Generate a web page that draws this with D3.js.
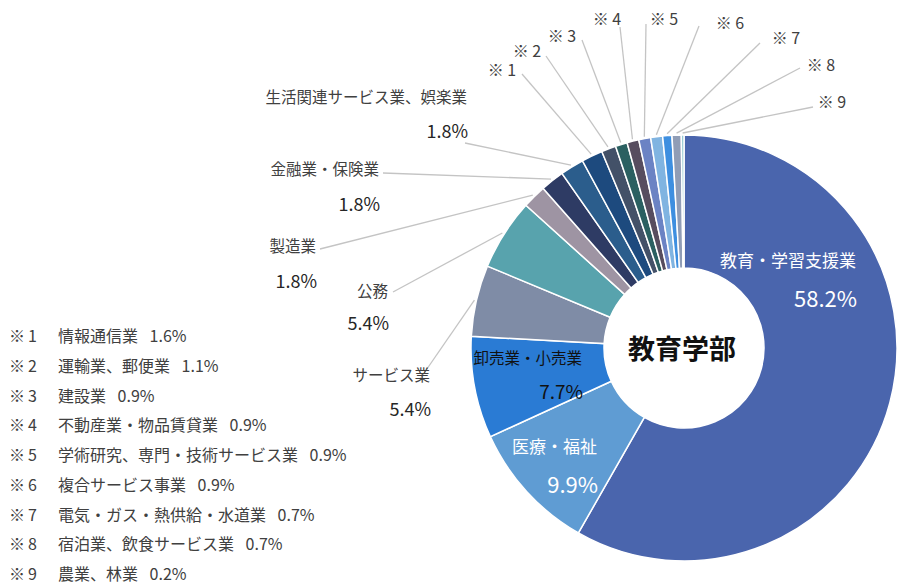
<!DOCTYPE html>
<meta charset="utf-8" />
<script src="https://d3js.org/d3.v7.min.js"></script>
<body style="margin:0;background:#fff">
  <div id="chart"></div>
  <script>
    // data
    const categories = [
      "教育・学習支援業", "医療・福祉", "卸売業・小売業", "サービス業", "公務",
      "製造業", "金融業・保険業", "生活関連サービス業、娯楽業",
      "情報通信業", "運輸業、郵便業", "建設業", "不動産業・物品賃貸業",
      "学術研究、専門・技術サービス業", "複合サービス事業",
      "電気・ガス・熱供給・水道業", "宿泊業、飲食サービス業", "農業、林業"
    ];
    const values = [58.2, 9.9, 7.7, 5.4, 5.4, 1.8, 1.8, 1.8, 1.6, 1.1, 0.9, 0.9, 0.9, 0.9, 0.7, 0.7, 0.2];
    const colors = [
      "#4a65ad", "#5f9cd3", "#2a7bd4", "#7f8ca6", "#58a3ad", "#9e94a3",
      "#2e3b64", "#2b5d8c", "#1d4a7e", "#435168", "#2b6061", "#574d5f",
      "#6b83c4", "#80b4e1", "#3e8fe0", "#909db6", "#8ec7ce"
    ];
    const centerTitle = "教育学部";

    // layout of labels (placed by hand like the original)
    const insideLabels = {
      0: { x: 856, y: 259, py: 297, fill: "#fff", fs: 17, pfs: 22 },
      1: { x: 597, y: 445, py: 483, fill: "#fff", fs: 17, pfs: 22 },
      2: { x: 582, y: 357, py: 390, fill: "#111", fs: 15.5, pfs: 19 }
    };
    const outsideLabels = {
      3: { x: 430, y: 374, py: 408, lx: 420, ly: 379 },
      4: { x: 388, y: 290, py: 322, lx: 393, ly: 292 },
      5: { x: 316, y: 245, py: 280, lx: 320, ly: 249 },
      6: { x: 379, y: 168, py: 203, lx: 383, ly: 173 },
      7: { x: 467, y: 96, py: 130, lx: 465, ly: 143 }
    };
    const markLabels = {
      8: { x: 502, y: 69, lx: 522, ly: 74 },
      9: { x: 527, y: 50, lx: 546, ly: 56 },
      10: { x: 562, y: 35, lx: 582, ly: 40 },
      11: { x: 607, y: 18, lx: 620, ly: 27 },
      12: { x: 664, y: 18, lx: 646, ly: 24 },
      13: { x: 730, y: 22, lx: 699, ly: 26 },
      14: { x: 786, y: 37, lx: 760, ly: 43 },
      15: { x: 821, y: 64, lx: 800, ly: 68 },
      16: { x: 832, y: 101, lx: 813, ly: 107 }
    };

    const width = 900, height = 587;
    const cx = 684, cy = 348, rOuter = 213, rInner = 80;
    const font = "'Noto Sans CJK JP', 'Noto Sans', sans-serif";

    const svg = d3.select("#chart").append("svg")
      .attr("width", width).attr("height", height)
      .style("font-family", font);

    const data = categories.map((c, i) => ({ name: c, value: values[i], i: i }));
    const pie = d3.pie().value(d => d.value).sort(null);
    const arcs = pie(data);
    const arc = d3.arc().innerRadius(rInner).outerRadius(rOuter);
    const edge = d3.arc().innerRadius(rOuter + 2).outerRadius(rOuter + 2);

    const g = svg.append("g").attr("transform", "translate(" + cx + "," + cy + ")");

    // slices
    g.selectAll("path.slice")
      .data(arcs)
      .enter()
      .append("path")
      .attr("class", "slice")
      .attr("d", arc)
      .attr("fill", d => colors[d.index])
      .attr("stroke", "#fff")
      .attr("stroke-width", 1.5);

    // leader lines
    const lineColor = "#c4c4c4";
    arcs.forEach(d => {
      const lay = outsideLabels[d.index] || markLabels[d.index];
      if (!lay) return;
      const p = edge.centroid(d);
      svg.append("line")
        .attr("x1", lay.lx).attr("y1", lay.ly)
        .attr("x2", cx + p[0]).attr("y2", cy + p[1])
        .attr("stroke", lineColor)
        .attr("stroke-width", 1.3);
    });

    // inside labels
    Object.keys(insideLabels).forEach(k => {
      const lay = insideLabels[k];
      svg.append("text")
        .attr("x", lay.x).attr("y", lay.y)
        .attr("text-anchor", "end").attr("dominant-baseline", "central")
        .attr("fill", lay.fill).style("font-size", lay.fs + "px")
        .text(categories[k]);
      svg.append("text")
        .attr("x", lay.x + 1).attr("y", lay.py)
        .attr("text-anchor", "end").attr("dominant-baseline", "central")
        .attr("fill", lay.fill).style("font-size", lay.pfs + "px")
        .text(values[k].toFixed(1) + "%");
    });

    // outside labels
    Object.keys(outsideLabels).forEach(k => {
      const lay = outsideLabels[k];
      svg.append("text")
        .attr("x", lay.x).attr("y", lay.y)
        .attr("text-anchor", "end").attr("dominant-baseline", "central")
        .attr("fill", "#404040").style("font-size", "15.5px")
        .text(categories[k]);
      svg.append("text")
        .attr("x", lay.x + 1).attr("y", lay.py)
        .attr("text-anchor", "end").attr("dominant-baseline", "central")
        .attr("fill", "#262626").style("font-size", "18px")
        .text(values[k].toFixed(1) + "%");
    });

    // ※ marks
    Object.keys(markLabels).forEach(k => {
      const lay = markLabels[k];
      svg.append("text")
        .attr("x", lay.x).attr("y", lay.y)
        .attr("text-anchor", "middle").attr("dominant-baseline", "central")
        .attr("fill", "#404040").style("font-size", "16px")
        .text("※ " + (k - 7));
    });

    // center title
    svg.append("text")
      .attr("x", cx - 2).attr("y", cy - 1)
      .attr("text-anchor", "middle").attr("dominant-baseline", "central")
      .attr("fill", "#111").style("font-size", "27px").style("font-weight", "bold")
      .text(centerTitle);

    // footnote list
    const notes = d3.range(8, categories.length);
    const rowY = d3.scaleLinear().domain([0, notes.length - 1]).range([335, 573]);
    notes.forEach((idx, j) => {
      const row = svg.append("g")
        .attr("fill", "#404040").style("font-size", "16px");
      row.append("text")
        .attr("x", 9).attr("y", rowY(j))
        .attr("dominant-baseline", "central")
        .text("※");
      row.append("text")
        .attr("x", 28).attr("y", rowY(j))
        .attr("dominant-baseline", "central")
        .text(idx - 7);
      row.append("text")
        .attr("x", 58).attr("y", rowY(j))
        .attr("dominant-baseline", "central")
        .text(categories[idx] + "\u2002 " + values[idx].toFixed(1) + "%");
    });
  </script>
</body>
